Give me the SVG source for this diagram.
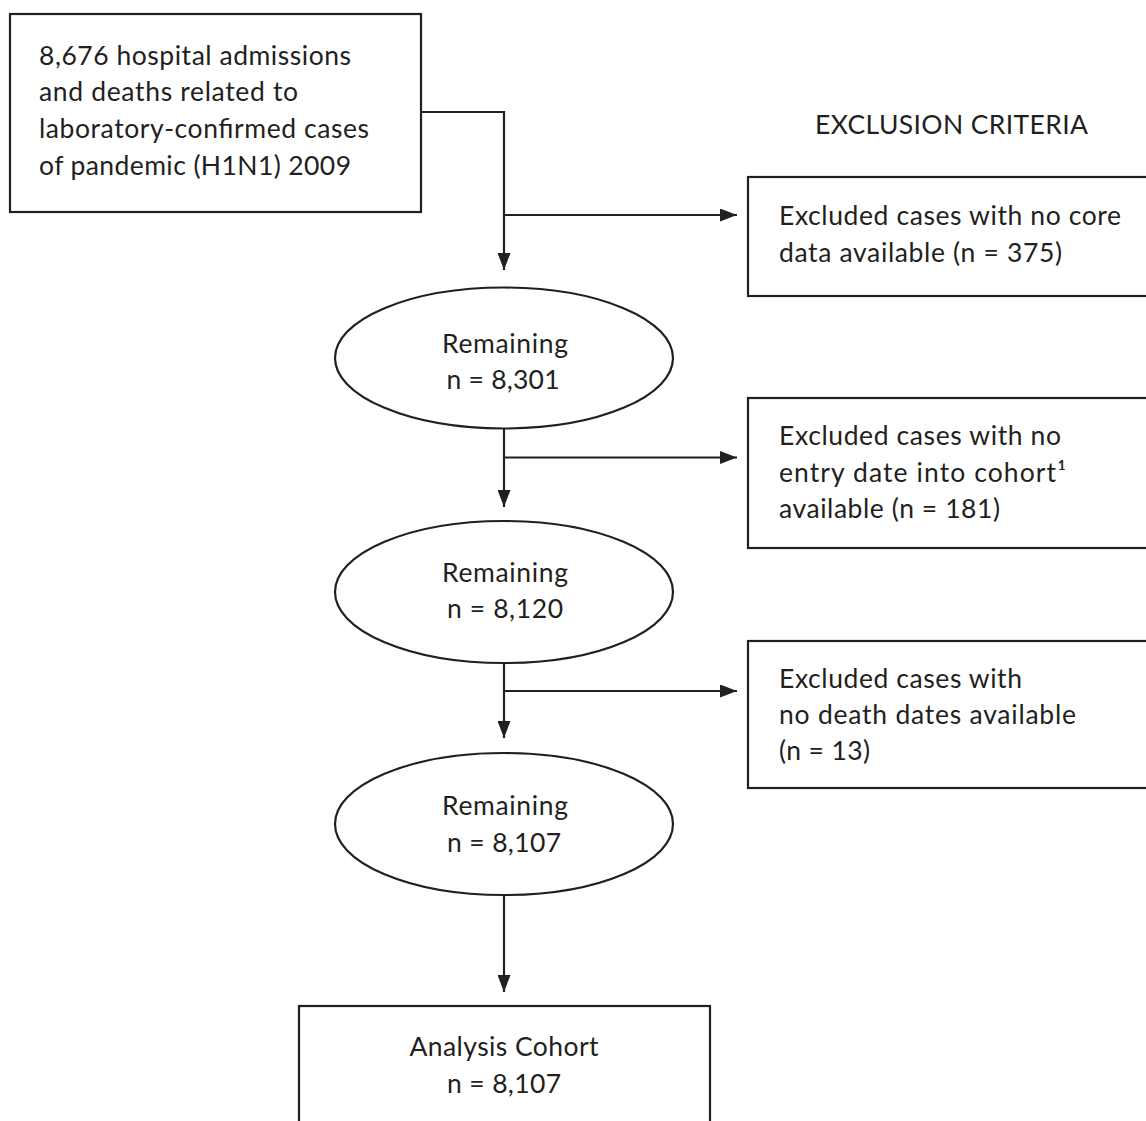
<svg xmlns="http://www.w3.org/2000/svg" width="1146" height="1121" viewBox="0 0 1146 1121">
<style>
.box{fill:#fff;stroke:#231f20;stroke-width:2.2}
.ell{fill:#fff;stroke:#231f20;stroke-width:2.2}
.t{font-family:Lato,"Noto Sans","Liberation Sans",sans-serif;font-size:26.5px;fill:#231f20}
.c{text-anchor:middle}
.ln{fill:none;stroke:#231f20;stroke-width:2.2}
</style>
<defs>
<marker id="ah" markerUnits="userSpaceOnUse" markerWidth="17" markerHeight="13" viewBox="0 0 17 13" refX="17" refY="6.5" orient="auto">
<path d="M0,0 L17,6.5 L0,13 Z" fill="#231f20"/>
</marker>
</defs>
<rect width="1146" height="1121" fill="#fff"/>
<g id="connectors">
<path class="ln" d="M421,112 H504 V270" marker-end="url(#ah)"/>
<path class="ln" d="M504,215 H737" marker-end="url(#ah)"/>
<path class="ln" d="M504,428 V507" marker-end="url(#ah)"/>
<path class="ln" d="M504,457.5 H737" marker-end="url(#ah)"/>
<path class="ln" d="M504,663 V738" marker-end="url(#ah)"/>
<path class="ln" d="M504,691 H737" marker-end="url(#ah)"/>
<path class="ln" d="M504,895 V992" marker-end="url(#ah)"/>
</g>
<g id="start">
<rect class="box" x="10" y="14" width="411" height="198"/>
<text class="t" x="39" y="65" textLength="312">8,676 hospital admissions</text>
<text class="t" x="39" y="101" textLength="259">and deaths related to</text>
<text class="t" x="39" y="138" textLength="330">laboratory-confirmed cases</text>
<text class="t" x="39" y="175" textLength="312">of pandemic (H1N1) 2009</text>
</g>
<g id="title">
<text class="t" x="815" y="134" textLength="273">EXCLUSION CRITERIA</text>
</g>
<g id="excl1">
<rect class="box" x="748" y="177" width="420" height="119"/>
<text class="t" x="779" y="225" textLength="342">Excluded cases with no core</text>
<text class="t" x="779" y="262" textLength="283">data available (n = 375)</text>
</g>
<g id="rem1">
<ellipse class="ell" cx="504" cy="358" rx="169" ry="70.5"/>
<text class="t c" x="505" y="353" textLength="126">Remaining</text>
<text class="t c" x="503" y="389" textLength="113">n = 8,301</text>
</g>
<g id="excl2">
<rect class="box" x="748" y="398" width="420" height="150"/>
<text class="t" x="779" y="445" textLength="282">Excluded cases with no</text>
<text class="t" x="779" y="482" textLength="287">entry date into cohort¹</text>
<text class="t" x="779" y="518" textLength="221">available (n = 181)</text>
</g>
<g id="rem2">
<ellipse class="ell" cx="504" cy="592" rx="169" ry="71"/>
<text class="t c" x="505" y="582" textLength="126">Remaining</text>
<text class="t c" x="505" y="618" textLength="116">n = 8,120</text>
</g>
<g id="excl3">
<rect class="box" x="748" y="641" width="420" height="147"/>
<text class="t" x="779" y="688" textLength="243">Excluded cases with</text>
<text class="t" x="779" y="724" textLength="297">no death dates available</text>
<text class="t" x="779" y="760" textLength="91">(n = 13)</text>
</g>
<g id="rem3">
<ellipse class="ell" cx="504" cy="824" rx="169" ry="71"/>
<text class="t c" x="505" y="815" textLength="126">Remaining</text>
<text class="t c" x="504" y="852" textLength="114">n = 8,107</text>
</g>
<g id="cohort">
<rect class="box" x="299" y="1006" width="411" height="130"/>
<text class="t c" x="504" y="1056" textLength="189">Analysis Cohort</text>
<text class="t c" x="504" y="1093" textLength="114">n = 8,107</text>
</g>
</svg>
